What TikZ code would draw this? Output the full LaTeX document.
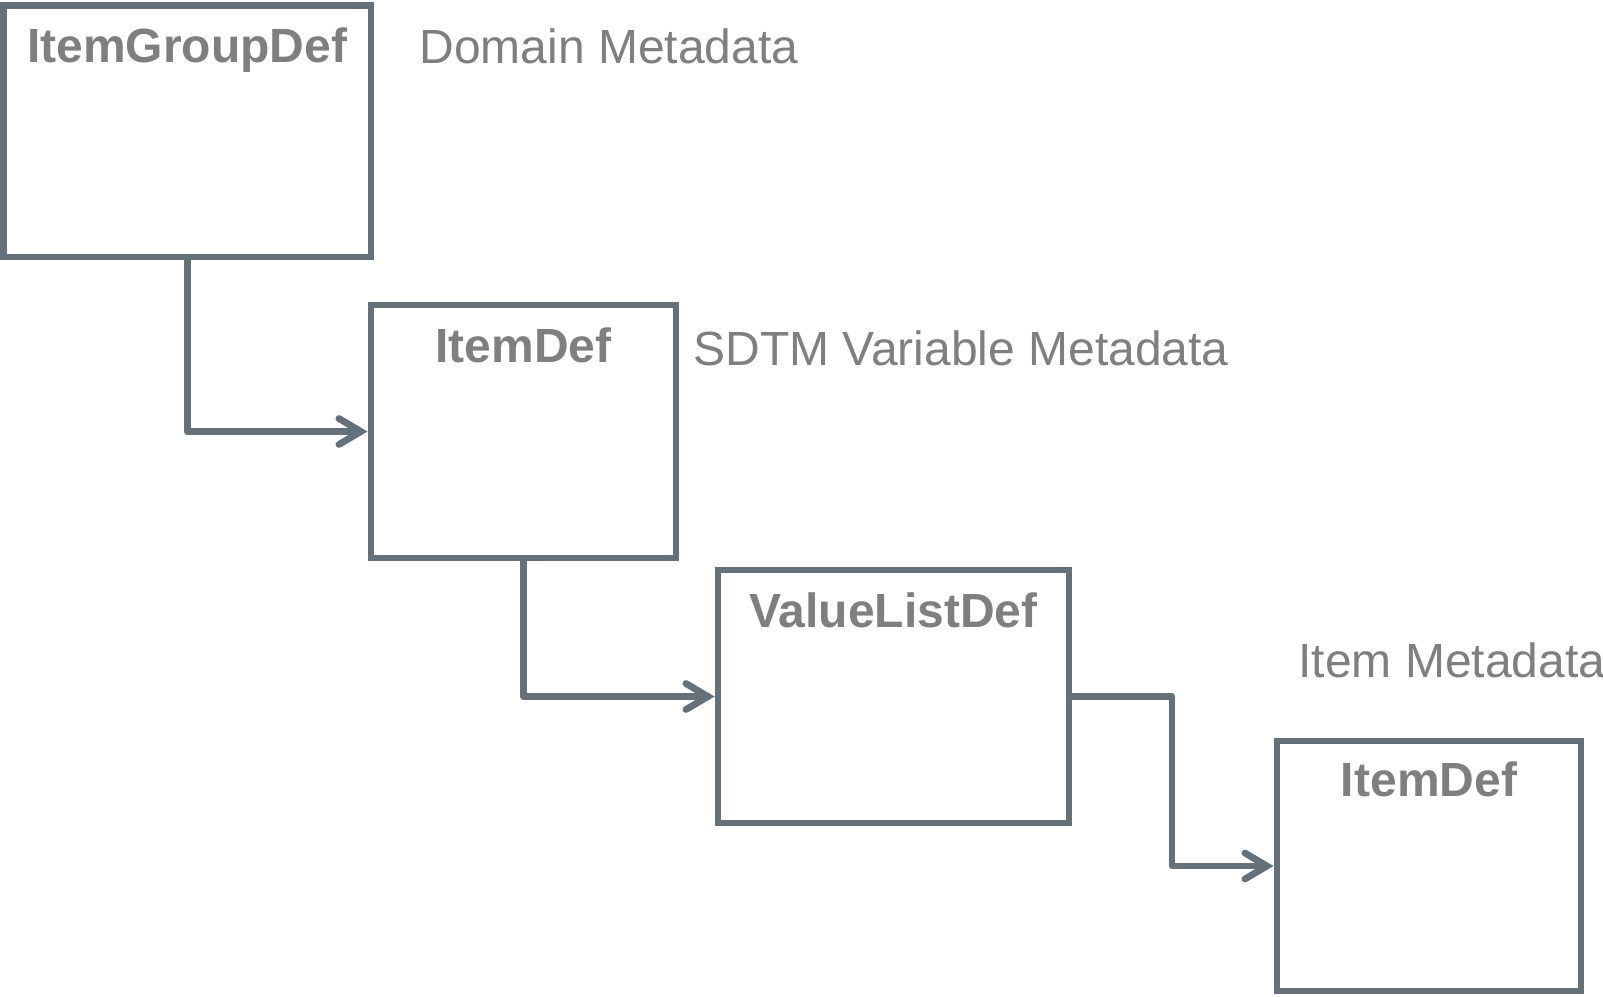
\documentclass[tikz,border=0pt]{standalone}
\usepackage{fontspec}
\setmainfont{Liberation Sans}
\usetikzlibrary{arrows.meta}
\definecolor{boxline}{RGB}{100,113,122}
\definecolor{txtgray}{RGB}{127,127,127}
\tikzset{
  defbox/.style={draw=boxline,line width=3.4pt,inner sep=0pt,rectangle},
  deftitle/.style={anchor=base,text=txtgray,font=\fontsize{24}{28}\selectfont\bfseries,inner sep=0pt},
  metalabel/.style={anchor=base west,text=txtgray,font=\fontsize{24}{28}\selectfont,inner sep=0pt},
  link/.style={draw=boxline,line width=3.4pt,line join=round,-{Straight Barb[length=11pt,width=13pt,line cap=round]}}
}
\begin{document}
\begin{tikzpicture}[x=0.5pt,y=-0.5pt]
\useasboundingbox (0,0) rectangle (1603,997);

\node[defbox,minimum width=183.75pt,minimum height=125.75pt] (groupdef) at (187.25,131.25) {};
\node[defbox,minimum width=152.5pt,minimum height=126.5pt] (itemdefA) at (523.5,431.5) {};
\node[defbox,minimum width=175.5pt,minimum height=126.5pt] (valuelist) at (893.5,696.5) {};
\node[defbox,minimum width=152pt,minimum height=125pt] (itemdefB) at (1429,866) {};

\node[deftitle] (groupdefT) at ([yshift=-30.25pt]groupdef.north) {ItemGroupDef};
\node[deftitle] (itemdefAT) at ([yshift=-30.5pt]itemdefA.north) {ItemDef};
\node[deftitle] (valuelistT) at ([yshift=-30.5pt]valuelist.north) {ValueListDef};
\node[deftitle] (itemdefBT) at ([yshift=-29.5pt]itemdefB.north) {ItemDef};

\node[metalabel] (domainL) at (419,63) {Domain Metadata};
\node[metalabel] (variableL) at (693,365) {SDTM Variable Metadata};
\node[metalabel] (itemL) at (1298,677) {Item Metadata};

\coordinate (turn) at (1172,696.5);
\draw[link] (groupdef.south) |- (itemdefA.west);
\draw[link] (itemdefA.south) |- (valuelist.west);
\draw[link] (valuelist.east) -- (turn) |- (itemdefB.west);
\end{tikzpicture}
\end{document}
